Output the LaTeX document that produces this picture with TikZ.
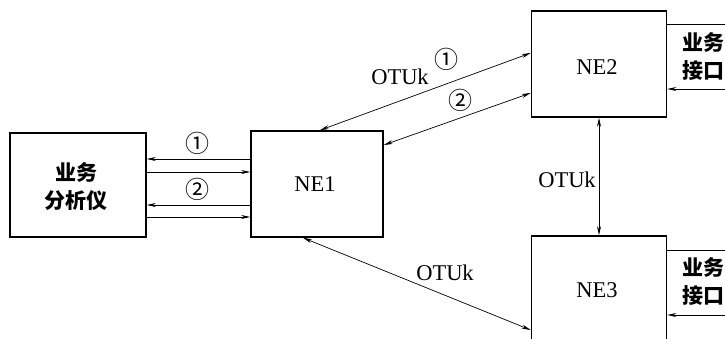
\documentclass[tikz,border=0pt]{standalone}
\usepackage{fontspec}
\setmainfont{Liberation Serif}
\newfontfamily\cjk{Noto Sans CJK SC}
\usetikzlibrary{arrows.meta}
\tikzset{
  box/.style={draw, line width=1.6pt, minimum width=135pt, minimum height=106pt, inner sep=0pt},
  arr/.style={line width=0.7pt, -{Stealth[length=9pt,width=4pt]}},
  darr/.style={line width=0.7pt, {Stealth[length=9pt,width=4pt]}-{Stealth[length=9pt,width=4pt]}},
  plain/.style={line width=0.7pt},
  lbl/.style={font=\fontsize{22.5}{24}\selectfont, inner sep=0pt},
  num/.style={font=\cjk\fontsize{24}{26}\selectfont, inner sep=0pt},
  zh/.style={font=\cjk\bfseries\fontsize{21}{28}\selectfont, inner sep=0pt, align=center}
}
\begin{document}
\begin{tikzpicture}[x=1pt,y=-1pt]
\useasboundingbox (0,0) rectangle (725,338);
% boxes
\node[box, minimum width=136pt, minimum height=104pt] (ana) at (78,185) {};
\node[zh] (anat) at (76,187) {业务\\分析仪};
\node[box, minimum width=132pt, minimum height=106pt] (ne1) at (317,184) {};
\node[lbl] (ne1t) at (315,184) {NE1};
\node[box] (ne2) at (599,64) {};
\node[lbl] (ne2t) at (597,67) {NE2};
\node[box, minimum height=110pt] (ne3) at (599,291) {};
\node[lbl] (ne3t) at (597,290) {NE3};
% analyzer <-> NE1
\draw[arr] (ne1.west |- 0,159) -- (ana.east |- 0,159);
\draw[arr] (ana.east |- 0,172) -- (ne1.west |- 0,172);
\draw[arr] (ne1.west |- 0,205) -- (ana.east |- 0,205);
\draw[arr] (ana.east |- 0,217) -- (ne1.west |- 0,217);
\node[num] (n1a) at (197,143) {①};
\node[num] (n2a) at (197,189) {②};
% NE1 <-> NE2
\draw[darr] (ne1.north -| 320,0) -- (ne2.west |- 0,53);
\draw[darr] (ne1.east |- 0,145) -- (ne2.west |- 0,93);
\node[lbl] (otu1) at (400,77) {OTUk};
\node[num] (n1b) at (446,59) {①};
\node[num] (n2b) at (460,100) {②};
% NE2 <-> NE3
\draw[darr] (ne2.south) -- (ne3.north);
\node[lbl] (otu2) at (567,180) {OTUk};
% NE1 <-> NE3
\draw[darr] (ne1.south -| 303,0) -- (ne3.west |- 0,330);
\node[lbl] (otu3) at (445,273) {OTUk};
% service interfaces
\coordinate (s2a) at (730,24);
\coordinate (s2b) at (730,89);
\draw[plain] (ne2.east |- s2a) -- (s2a);
\draw[arr] (s2b) -- (ne2.east |- s2b);
\node[zh, anchor=west] (si2) at (682,57) {业务\\接口};
\coordinate (s3a) at (730,250);
\coordinate (s3b) at (730,315);
\draw[plain] (ne3.east |- s3a) -- (s3a);
\draw[arr] (s3b) -- (ne3.east |- s3b);
\node[zh, anchor=west] (si3) at (682,282) {业务\\接口};
\end{tikzpicture}
\end{document}
